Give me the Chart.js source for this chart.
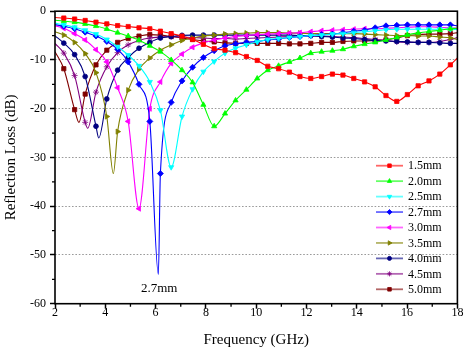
<!DOCTYPE html>
<html>
<head>
<meta charset="utf-8">
<script src="https://cdn.jsdelivr.net/npm/chart.js@4/dist/chart.umd.min.js"></script>
<style>
html,body{margin:0;padding:0;background:#fff;}
#wrap{width:467px;height:349px;}
</style>
</head>
<body>
<div id="wrap"><canvas id="c" width="467" height="349"></canvas></div>
<script>
// ---- data ----
const freq = [2.35, 2.78, 3.20, 3.63, 4.06, 4.49, 4.91, 5.34, 5.77, 6.19, 6.62, 7.05, 7.47, 7.90, 8.33, 8.76, 9.18, 9.61, 10.04, 10.46, 10.89, 11.32, 11.74, 12.17, 12.60, 13.03, 13.45, 13.88, 14.31, 14.73, 15.16, 15.59, 16.01, 16.44, 16.87, 17.30, 17.72];
const seriesNames = ['1.5mm', '2.0mm', '2.5mm', '2.7mm', '3.0mm', '3.5mm', '4.0mm', '4.5mm', '5.0mm'];
const loss15 = [-1.4, -1.6, -1.9, -2.25, -2.6, -2.95, -3.15, -3.4, -3.6, -4.1, -4.6, -5.1, -5.8, -6.8, -7.7, -8.0, -8.5, -9.3, -10.1, -11.3, -11.8, -12.5, -13.4, -13.8, -13.4, -12.9, -13.1, -13.8, -14.5, -15.5, -17.3, -18.5, -17.1, -15.3, -14.3, -12.9, -11.0];
const loss20 = [-2.0, -2.25, -2.6, -3.05, -3.65, -4.4, -5.1, -5.95, -7.1, -8.3, -10.0, -12.1, -14.6, -19.2, -23.6, -21.0, -18.3, -16.1, -13.8, -12.1, -11.2, -10.4, -9.6, -8.6, -8.3, -8.1, -7.8, -7.2, -6.75, -6.4, -5.9, -5.4, -4.85, -4.45, -4.15, -3.9, -3.6];
const loss25 = [-2.8, -3.3, -3.9, -4.7, -5.8, -7.3, -9.0, -11.2, -14.5, -20.3, -32.0, -21.6, -16.0, -12.4, -10.3, -8.6, -7.6, -6.9, -6.3, -5.8, -5.6, -5.4, -5.2, -5.0, -4.9, -4.7, -4.6, -4.4, -4.2, -4.0, -3.8, -3.7, -3.7, -3.7, -3.7, -3.7, -3.7];
const loss27 = [-3.1, -3.6, -4.3, -5.1, -6.2, -7.8, -10.4, -15.0, -22.6, -33.3, -18.7, -14.3, -11.5, -9.5, -8.1, -7.1, -6.7, -6.4, -6.2, -5.9, -5.7, -5.4, -5.2, -5.0, -4.8, -4.7, -4.4, -4.1, -3.9, -3.4, -3.0, -2.9, -2.8, -2.8, -2.8, -2.8, -2.8];
const loss30 = [-3.5, -4.6, -5.9, -7.9, -10.4, -15.7, -22.6, -40.5, -20.0, -14.5, -10.7, -8.8, -7.4, -6.5, -5.9, -5.5, -5.2, -5.0, -4.8, -4.7, -4.6, -4.5, -4.4, -4.2, -4.0, -3.9, -3.8, -3.7, -3.6, -3.6, -3.5, -3.4, -3.3, -3.2, -3.2, -3.3, -3.4];
const loss35 = [-4.9, -6.4, -8.7, -12.6, -21.6, -24.7, -16.2, -11.9, -9.6, -8.0, -6.9, -6.0, -5.5, -5.1, -4.9, -4.7, -4.6, -4.5, -4.4, -4.4, -4.4, -4.5, -4.5, -4.6, -4.6, -4.6, -4.6, -4.6, -4.7, -4.8, -4.9, -5.0, -5.0, -5.1, -5.1, -5.3, -5.5];
const loss40 = [-6.55, -8.9, -13.4, -23.6, -18.0, -12.1, -9.5, -7.6, -6.4, -5.5, -5.2, -4.95, -4.9, -4.9, -4.9, -4.9, -4.9, -4.9, -4.9, -4.9, -4.9, -4.9, -5.0, -5.0, -5.2, -5.3, -5.5, -5.6, -5.8, -6.0, -6.1, -6.2, -6.3, -6.4, -6.4, -6.5, -6.6];
const loss45 = [-8.6, -13.2, -22.8, -16.6, -11.4, -8.5, -6.9, -6.0, -5.5, -5.3, -5.2, -5.3, -5.4, -5.5, -5.6, -5.6, -5.7, -5.6, -5.5, -5.4, -5.3, -5.2, -5.1, -5.1, -5.1, -5.2, -5.3, -5.4, -5.6, -5.8, -6.0, -6.3, -6.4, -6.4, -6.4, -6.2, -5.8];
const loss50 = [-11.8, -20.2, -17.0, -11.0, -8.0, -6.4, -5.6, -5.1, -4.8, -4.9, -5.2, -5.5, -5.8, -6.1, -6.3, -6.5, -6.6, -6.6, -6.6, -6.6, -6.6, -6.7, -6.7, -6.6, -6.4, -6.4, -6.2, -6.1, -6.1, -6.0, -5.9, -5.5, -5.0, -4.8, -4.7, -4.7, -4.6];
// values at the ends of the band (2 GHz and 18 GHz), one per series
const lossAt2GHz  = [-1.3, -1.85, -2.45, -2.75, -3.0, -4.2, -5.05, -6.6, -8.3];
const lossAt18GHz = [-9.6, -3.5, -3.75, -3.0, -3.5, -5.8, -6.6, -5.4, -4.4];
// deepest point of each absorption dip that has no marker
const dipFreq = [null, null, null, 6.11, null, 4.32, 3.74, 3.30, 2.95];
const dipLoss = [null, null, null, -54.0, null, -33.3, -26.0, -24.0, -22.8];
// axis ticks
const xMinorTicks = [3, 5, 7, 9, 11, 13, 15, 17];
const yMinorTicks = [-55, -45, -35, -25, -15, -5];
const annotationText = '2.7mm';
const annotationAt = [6.14, -57.0];

// ---- styles ----
const seriesLoss = [loss15, loss20, loss25, loss27, loss30, loss35, loss40, loss45, loss50];
const colors = ['#ff0000', '#00ff00', '#00ffff', '#0000ff', '#ff00ff', '#808000', '#000080', '#800080', '#800000'];
const pStyles = ['rect', 'triangle', 'triangle', 'rectRot', 'triangle', 'triangle', 'circle', 'star', 'rect'];
const pRot = [0, 0, 180, 0, -90, 90, 0, 0, 0];
const pRad = [3, 3, 3, 3, 3, 3, 2.4, 3, 3];
const FONT = '"Liberation Serif", "Times New Roman", serif';

function buildPoints(i) {
  const pts = [{x: 2, y: lossAt2GHz[i], m: false}];
  freq.forEach((f, k) => pts.push({x: f, y: seriesLoss[i][k], m: true}));
  pts.push({x: 18, y: lossAt18GHz[i], m: false});
  if (dipFreq[i] !== null) pts.push({x: dipFreq[i], y: dipLoss[i], m: false});
  pts.sort((a, b) => a.x - b.x);
  return pts;
}

const datasets = seriesNames.map((name, i) => ({
  label: name,
  data: buildPoints(i),
  borderColor: colors[i],
  backgroundColor: colors[i],
  borderWidth: 1.1,
  pointStyle: pStyles[i],
  rotation: pRot[i],
  pointRadius: c => (c.raw && c.raw.m) ? pRad[i] : 0,
  pointBorderWidth: 0.8,
  pointBackgroundColor: colors[i],
  pointBorderColor: colors[i],
  cubicInterpolationMode: 'monotone',
  fill: false
}));

function drawMarker(ctx, i, x, y) {
  const dp = Chart.helpers && Chart.helpers.drawPoint;
  ctx.fillStyle = colors[i];
  ctx.strokeStyle = colors[i];
  ctx.lineWidth = 0.8;
  if (dp) {
    dp(ctx, {pointStyle: pStyles[i], rotation: pRot[i], radius: pRad[i] * 0.85, borderWidth: 0.8}, x, y);
  } else {
    ctx.beginPath(); ctx.arc(x, y, 2, 0, Math.PI * 2); ctx.fill();
  }
}

const framePlugin = {
  id: 'frame',
  afterDraw(chart) {
    const {ctx, chartArea: a, scales: {x, y}} = chart;
    ctx.save();
    // minor ticks
    ctx.strokeStyle = '#000';
    ctx.lineWidth = 1.3;
    ctx.beginPath();
    yMinorTicks.forEach(v => { const py = y.getPixelForValue(v); ctx.moveTo(a.left - 3, py); ctx.lineTo(a.left, py); });
    xMinorTicks.forEach(v => { const px = x.getPixelForValue(v); ctx.moveTo(px, a.bottom); ctx.lineTo(px, a.bottom + 3); });
    ctx.stroke();
    // frame
    ctx.lineWidth = 1.6;
    ctx.strokeRect(a.left, a.top, a.right - a.left, a.bottom - a.top);
    // legend
    const rowY0 = 165.7, rowStep = 15.45, lx0 = 376, lx1 = 403, tx = 408;
    ctx.font = '12px ' + FONT;
    ctx.textAlign = 'left';
    ctx.textBaseline = 'middle';
    seriesNames.forEach((name, i) => {
      const ry = rowY0 + i * rowStep;
      ctx.save();
      ctx.globalAlpha = 0.6;
      ctx.strokeStyle = colors[i];
      ctx.lineWidth = 1.8;
      ctx.beginPath(); ctx.moveTo(lx0, ry); ctx.lineTo(lx1, ry); ctx.stroke();
      ctx.restore();
      drawMarker(ctx, i, (lx0 + lx1) / 2, ry);
      ctx.fillStyle = '#000';
      ctx.fillText(name, tx, ry + 0.5);
    });
    // annotation
    ctx.font = '13px ' + FONT;
    ctx.textAlign = 'center';
    ctx.fillStyle = '#000';
    ctx.fillText(annotationText, x.getPixelForValue(annotationAt[0]), y.getPixelForValue(annotationAt[1]));
    ctx.restore();
  }
};

new Chart(document.getElementById('c'), {
  type: 'line',
  data: {datasets},
  options: {
    responsive: false,
    animation: false,
    events: [],
    layout: {padding: {top: 10.3, right: 9.6, left: 0, bottom: 0}},
    plugins: {legend: {display: false}, tooltip: {enabled: false}},
    scales: {
      x: {
        type: 'linear', min: 2, max: 18,
        afterFit: s => { s.height = 45.3; },
        ticks: {stepSize: 2, padding: -3, color: '#000', font: {family: FONT, size: 12}, maxRotation: 0},
        grid: {drawOnChartArea: false, drawTicks: true, tickLength: 5, tickColor: '#000', tickWidth: 1.5, tickBorderDash: []},
        border: {display: false},
        title: {display: true, text: 'Frequency (GHz)', color: '#000', font: {family: FONT, size: 15}, padding: {top: 0, bottom: 0}}
      },
      y: {
        type: 'linear', min: -60, max: 0,
        afterFit: s => { s.width = 55; },
        ticks: {stepSize: 10, padding: 4, color: '#000', font: {family: FONT, size: 12}, callback: v => String(v)},
        grid: {
          drawOnChartArea: true, drawTicks: true, tickLength: 5, tickColor: '#000', tickWidth: 1.5, tickBorderDash: [],
          lineWidth: 1,
          color: c => (c.tick && (c.tick.value === 0 || c.tick.value === -60)) ? 'rgba(0,0,0,0)' : '#9a9a9a'
        },
        border: {display: false, dash: [1.6, 1.8]},
        title: {display: true, text: 'Reflection Loss (dB)', color: '#000', font: {family: FONT, size: 15}, padding: {top: 2, bottom: 0}}
      }
    }
  },
  plugins: [framePlugin]
});
</script>
</body>
</html>
